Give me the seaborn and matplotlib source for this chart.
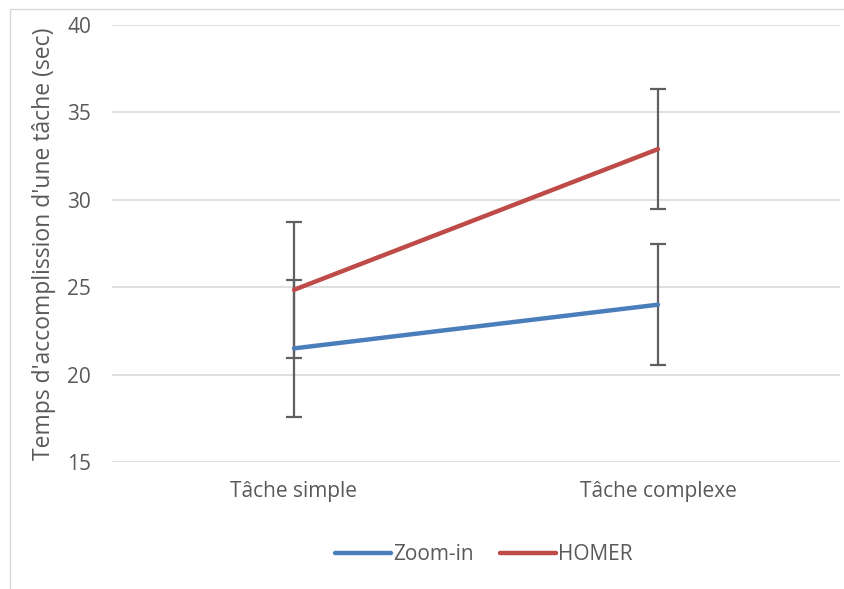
import pandas as pd
import matplotlib.pyplot as plt
import seaborn as sns
from matplotlib.lines import Line2D

# Données
taches = ['Tâche simple', 'Tâche complexe']
zoom_in = [21.5, 24.0]
homer = [24.85, 32.9]
zoom_in_err = [3.9, 3.45]
homer_err = [3.9, 3.45]
series = ['Zoom-in', 'HOMER']
couleurs = {'Zoom-in': '#4A7EBB', 'HOMER': '#BE4B48'}

df = pd.DataFrame({
    'Tâche': taches * 2,
    'Temps': zoom_in + homer,
    'Erreur': zoom_in_err + homer_err,
    'Série': [series[0]] * 2 + [series[1]] * 2,
})

sns.set_style("white")
plt.rcParams['font.family'] = ['Open Sans', 'DejaVu Sans']

fig = plt.figure(figsize=(8.45, 5.89), dpi=100)
ax = fig.add_axes([112 / 845, 1 - 462 / 589, 728 / 845, 437 / 589])

sns.lineplot(data=df, x='Tâche', y='Temps', hue='Série', palette=couleurs,
             linewidth=3.2, legend=False, ax=ax, zorder=3, solid_capstyle='round')

# barres d'erreur
for s in series:
    sub = df[df['Série'] == s]
    ax.errorbar(x=range(len(sub)), y=sub['Temps'], yerr=sub['Erreur'],
                fmt='none', ecolor='#5f5f5f', elinewidth=1.6, capsize=5.5,
                capthick=1.6, zorder=2)

ax.set_xlim(-0.5, 1.5)
ax.set_ylim(15, 40)
ax.set_yticks(range(15, 41, 5))
ax.set_xticks(range(len(taches)))
ax.set_xticklabels(taches)
ax.grid(axis='y', color='#d9d9d9', linewidth=1.2, zorder=0)
ax.set_axisbelow(True)
for sp in ax.spines.values():
    sp.set_visible(False)
ax.tick_params(axis='both', length=0, labelsize=15, colors='#595959')
ax.tick_params(axis='y', pad=15)
ax.tick_params(axis='x', pad=14)
ax.set_xlabel('')
ax.set_ylabel("Temps d'accomplission d'une tâche (sec)", fontsize=16.5,
              color='#595959', labelpad=8)

handles = [Line2D([0], [0], color=couleurs[s], linewidth=3.2, solid_capstyle='round')
           for s in series]
fig.legend(handles, series, loc='center', bbox_to_anchor=(484 / 845, 1 - 555 / 589),
           ncol=2, frameon=False, fontsize=15, handlelength=2.7, handletextpad=0.1,
           columnspacing=1.25, labelcolor='#595959')

# cadre du graphique
fig.add_artist(Line2D([10 / 845, 10 / 845], [0, 1 - 8.5 / 589], color='#d9d9d9', linewidth=1))
fig.add_artist(Line2D([10 / 845, 1], [1 - 8.5 / 589, 1 - 8.5 / 589], color='#d9d9d9', linewidth=1))

fig.savefig('out.png', dpi=100)
